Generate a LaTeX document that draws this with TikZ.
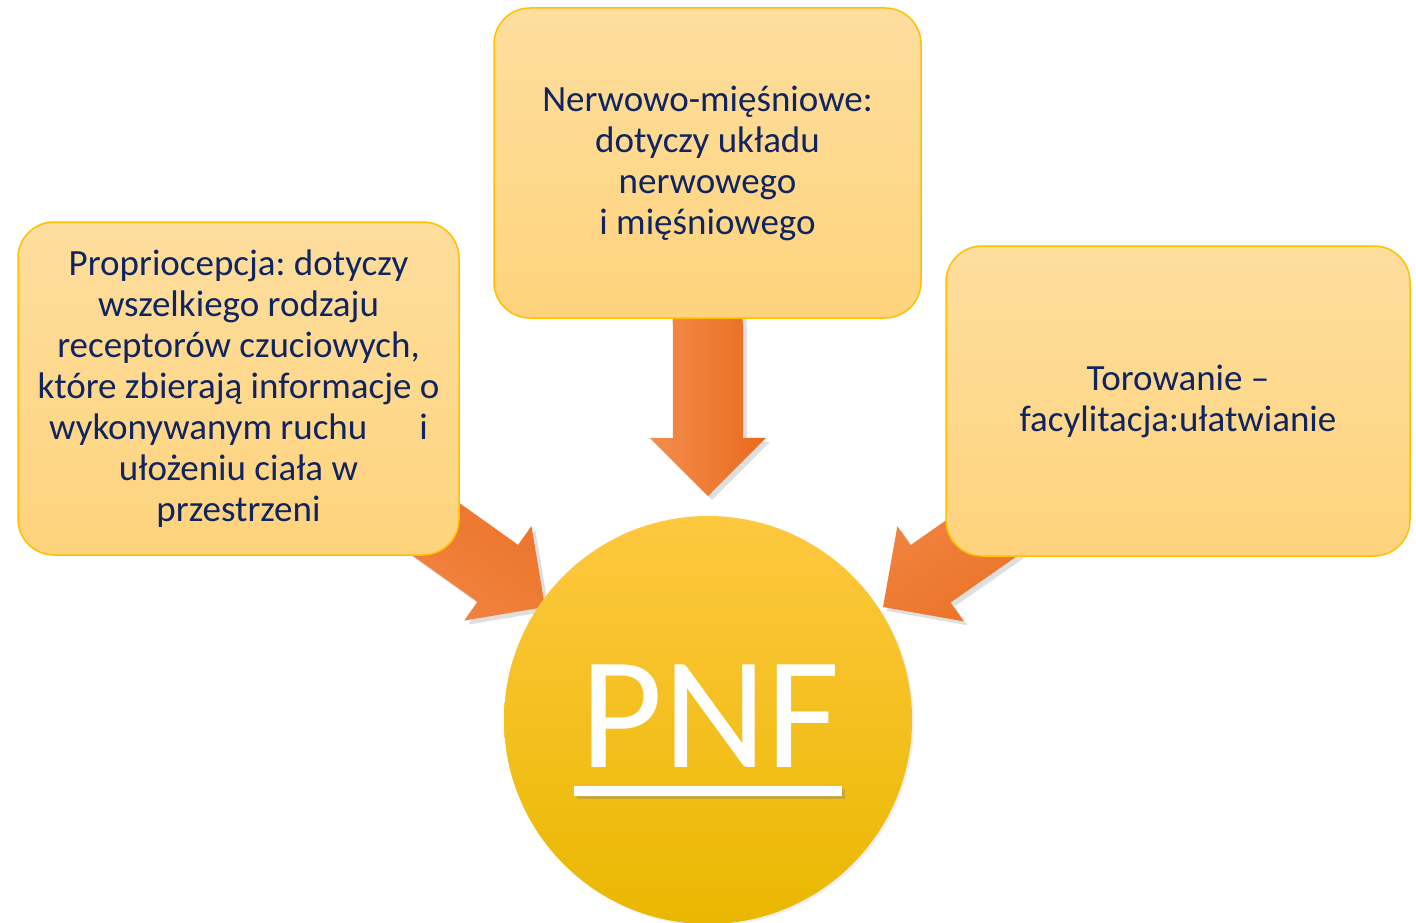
\documentclass[tikz,border=0pt]{standalone}
\usepackage{fontspec}
\setmainfont{Carlito}
\usetikzlibrary{calc,shadows}
\pgfdeclarelayer{background}
\pgfsetlayers{background,main}
\frenchspacing
\definecolor{navy}{RGB}{16,36,96}
\definecolor{boxtop}{RGB}{254,222,158}
\definecolor{boxbot}{RGB}{254,211,124}
\definecolor{boxline}{RGB}{255,192,0}
\definecolor{arrlight}{RGB}{243,142,78}
\definecolor{arrdark}{RGB}{234,106,28}
\definecolor{circtop}{RGB}{254,200,64}
\definecolor{circmid}{RGB}{255,194,0}
\definecolor{circbot}{RGB}{234,184,0}
\tikzset{
  infobox/.style={rounded corners=36pt, draw=boxline, line width=1.5pt,
    top color=boxtop, bottom color=boxbot, align=center, text=navy,
    font=\fontsize{37}{41}\selectfont, inner sep=0pt},
  blockarrow/.style={left color=arrlight, right color=arrdark,
    drop shadow={opacity=0.25, shadow xshift=4pt, shadow yshift=-4pt}},
}
\newcommand{\blockarr}[3]{%
  \coordinate (ba-B) at ($(#2)!58pt!(#1)$);
  \path[blockarrow, shading angle=#3]
    ($(#1)!35pt!90:(#2)$) -- ($(ba-B)!35pt!90:(#2)$) -- ($(ba-B)!58pt!90:(#2)$)
    -- (#2) -- ($(ba-B)!58pt!-90:(#2)$) -- ($(ba-B)!35pt!-90:(#2)$)
    -- ($(#1)!35pt!-90:(#2)$) -- cycle;
}
\begin{document}
\begin{tikzpicture}[x=1pt,y=-1pt]
\path[use as bounding box] (0,0) rectangle (1416,923);

% boxes
\node[infobox, minimum width=441pt, minimum height=333pt] (lbox) at (238.5,388.5)
  {Propriocepcja: dotyczy\\wszelkiego rodzaju\\receptorów czuciowych,\\które zbierają informacje o\\wykonywanym ruchu\hspace{52pt}i\\ułożeniu ciała w\\przestrzeni};
\node[infobox, minimum width=427pt, minimum height=310pt] (tbox) at (707.5,163)
  {Nerwowo-mięśniowe:\\dotyczy układu\\nerwowego\\i mięśniowego};
\node[infobox, minimum width=464pt, minimum height=310pt] (rbox) at (1178,401)
  {Torowanie –\\facylitacja:ułatwianie};

% circle
\node[circle, minimum size=408pt, inner sep=0pt, top color=circtop, middle color=circmid,
  bottom color=circbot, drop shadow={opacity=0.12, shadow xshift=2pt, shadow yshift=-2pt}]
  (pnf) at (708,720) {};
\node[anchor=base, text=white, font=\fontsize{160}{160}\selectfont, inner sep=0pt]
  (pnftext) at (710,767) {PNF};
\fill[white, drop shadow={opacity=0.35, shadow xshift=3pt, shadow yshift=-3pt}]
  (574,786) rectangle (842,796);

% arrow tips
\coordinate (tipT) at (708,496);
\coordinate (tipL) at (545,607);
\coordinate (tipR) at (883,607);

\begin{pgfonlayer}{background}
  \blockarr{tbox.center}{tipT}{90}
  \blockarr{lbox.center}{tipL}{144.5}
  \blockarr{rbox.center}{tipR}{32.4}
\end{pgfonlayer}
\end{tikzpicture}
\end{document}
